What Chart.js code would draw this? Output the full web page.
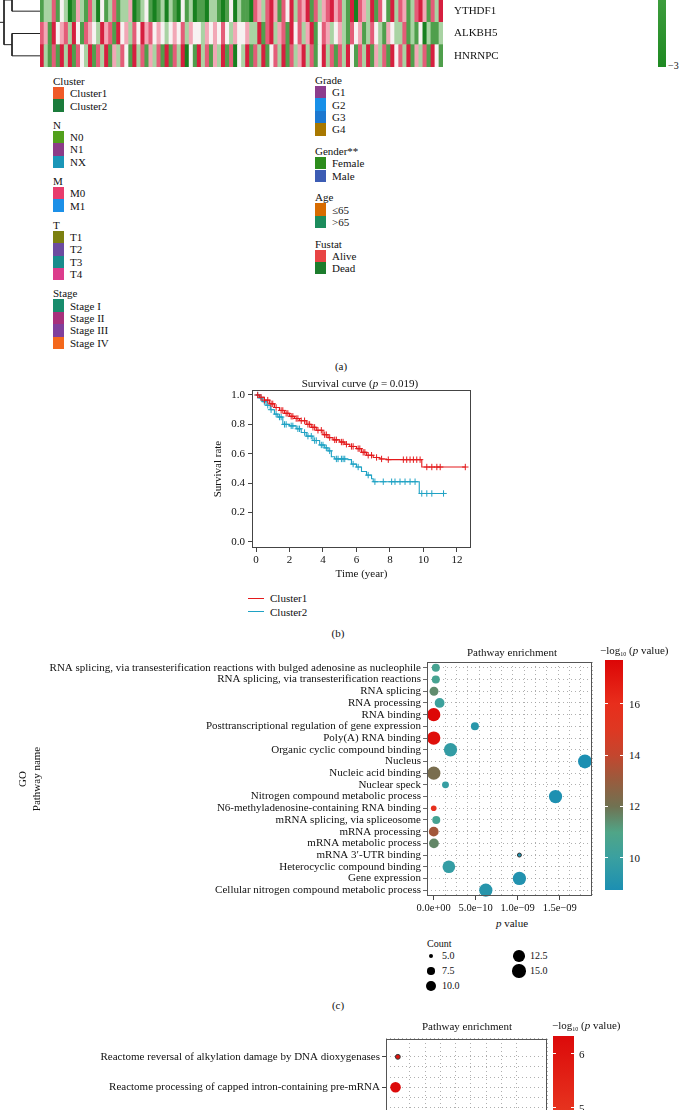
<!DOCTYPE html>
<html lang="en">
<head>
<meta charset="UTF-8">
<title>m6A regulator clusters</title>
<script src="https://cdn.jsdelivr.net/npm/chart.js"></script>
<style>
  html, body { margin: 0; padding: 0; background: #fff; }
  body { width: 682px; height: 1110px; position: relative; overflow: hidden;
         font-family: 'Liberation Serif', 'DejaVu Serif', serif; color: #111; }
  canvas { position: absolute; }
  .t { position: absolute; font-size: 11px; line-height: 12px; white-space: nowrap; }
  .c { transform: translate(-50%, -50%); }
  .m { transform: translateY(-50%); }
  .box { position: absolute; }
  sub { font-size: 6px; vertical-align: -2px; }
</style>
</head>
<body>
<canvas id="dendro" width="40" height="67" style="left:0;top:0"></canvas>
<canvas id="heat" width="463" height="67" style="left:40px;top:0"></canvas>
<canvas id="surv" width="272" height="205" style="left:208px;top:380px"></canvas>
<canvas id="go" width="600" height="268" style="left:0;top:648px"></canvas>
<canvas id="react" width="560" height="160" style="left:0;top:1030px"></canvas>

<script>
// ---------- heatmap (a) ----------
const heatGenes = ['YTHDF1', 'ALKBH5', 'HNRNPC'];
// cells read left to right: 0 = -3 (green), 3 = 0 (white), 6 = +3 (red)
const heatYTHDF1 = '1225132014215203125122401231' + '0120210312011022101302110' + '54256415362546152456' + '452160542615316254125641526';
const heatALKBH5 = '5416345263154326451634253645' + '3432343524332434353243342' + '26156245163524613542' + '342153412532143225121302112';
const heatHNRNPC = '6215162615326152614253162514' + '2516152603162514261503261' + '52613526152462513625' + '152631526142516352614251631';
const heatPalette = ['#17801f', '#4f9f4c', '#a9d3a3', '#f7f2f2', '#f2a7b6', '#e45c78', '#d61f3f'];

// dendrogram: leaf centres (row above is cut off) and merges [nodeA, nodeB, height]
const dendroLeafRows = [-0.5, 0.5, 1.5, 2.5];
const dendroMerges = [[0, 1, 28], [2, 3, 28], [4, 5, 36]];

// annotation legend
const annoLeft = [
  { title: 'Cluster', names: ['Cluster1', 'Cluster2'], colors: ['#f05a28', '#1b7b3b'] },
  { title: 'N', names: ['N0', 'N1', 'NX'], colors: ['#52a01c', '#8c3c88', '#1a96b8'] },
  { title: 'M', names: ['M0', 'M1'], colors: ['#e83c6c', '#1c90e8'] },
  { title: 'T', names: ['T1', 'T2', 'T3', 'T4'], colors: ['#7c8010', '#6c4ca0', '#188c8c', '#dc3c8c'] },
  { title: 'Stage', names: ['Stage I', 'Stage II', 'Stage III', 'Stage IV'], colors: ['#188c6c', '#a8307c', '#80409c', '#f4681c'] }
];
const annoRight = [
  { title: 'Grade', names: ['G1', 'G2', 'G3', 'G4'], colors: ['#8c3c8c', '#1890e8', '#1c78d0', '#a87800'] },
  { title: 'Gender**', names: ['Female', 'Male'], colors: ['#2c8c1c', '#3c5cb4'] },
  { title: 'Age', names: ['\u226465', '>65'], colors: ['#d86c00', '#1c8c5c'] },
  { title: 'Fustat', names: ['Alive', 'Dead'], colors: ['#e84444', '#1c7c2c'] }
];

// ---------- survival (b) ----------
const km1Times = [0, 0.2, 0.5, 0.8, 1.1, 1.4, 1.7, 2.0, 2.3, 2.6, 3.0, 3.3, 3.6, 4.0, 4.3, 4.6, 5.0, 5.3, 5.6, 6.0, 6.3, 6.6, 7.0, 7.4, 7.8, 9.9, 12.5];
const km1Surv = [1.0, 0.985, 0.965, 0.94, 0.915, 0.895, 0.875, 0.855, 0.84, 0.825, 0.8, 0.78, 0.76, 0.73, 0.71, 0.695, 0.68, 0.665, 0.65, 0.635, 0.61, 0.59, 0.575, 0.565, 0.56, 0.51, 0.51];
const km1Censor = [0.1, 0.3, 0.5, 0.7, 0.9, 1.0, 1.2, 1.5, 1.6, 1.8, 1.9, 2.1, 2.2, 2.4, 2.5, 2.7, 2.9, 3.1, 3.2, 3.4, 3.5, 3.7, 3.9, 4.1, 4.2, 4.4, 4.7, 4.8, 5.1, 5.2, 5.4, 5.7, 5.8, 6.1, 6.2, 6.4, 6.5, 6.7, 6.9, 7.2, 7.5, 7.9, 8.8, 9.0, 9.2, 9.4, 9.6, 9.8, 10.2, 10.5, 10.8, 11.0, 12.5];
const km2Times = [0, 0.2, 0.4, 0.6, 0.85, 1.1, 1.3, 1.6, 2.0, 2.4, 2.7, 3.0, 3.4, 3.8, 4.1, 4.3, 4.5, 4.7, 5.5, 5.7, 6.0, 6.3, 6.6, 6.9, 7.0, 9.75, 11.2];
const km2Surv = [1.0, 0.98, 0.955, 0.93, 0.9, 0.87, 0.85, 0.8, 0.79, 0.77, 0.745, 0.72, 0.69, 0.66, 0.64, 0.62, 0.58, 0.565, 0.56, 0.53, 0.51, 0.48, 0.455, 0.43, 0.41, 0.33, 0.33];
const km2Censor = [0.1, 0.3, 0.5, 0.7, 0.9, 1.2, 1.4, 1.5, 1.7, 1.8, 2.1, 2.2, 2.5, 2.6, 2.9, 3.1, 3.3, 3.5, 3.6, 3.9, 4.0, 4.2, 4.4, 4.8, 4.9, 5.1, 5.2, 5.3, 5.8, 6.1, 6.7, 7.1, 7.6, 8.1, 8.3, 8.6, 8.9, 9.2, 9.5, 9.9, 10.2, 10.5, 11.2];
const survGroups = ['Cluster1', 'Cluster2'];
const survColors = ['#e41a1c', '#1fa2c4'];

// ---------- GO enrichment (c) ----------
const goNames = [
  'RNA splicing, via transesterification reactions with bulged adenosine as nucleophile',
  'RNA splicing, via transesterification reactions',
  'RNA splicing',
  'RNA processing',
  'RNA binding',
  'Posttranscriptional regulation of gene expression',
  'Poly(A) RNA binding',
  'Organic cyclic compound binding',
  'Nucleus',
  'Nucleic acid binding',
  'Nuclear speck',
  'Nitrogen compound metabolic process',
  'N6-methyladenosine-containing RNA binding',
  'mRNA splicing, via spliceosome',
  'mRNA processing',
  'mRNA metabolic process',
  'mRNA 3\u2032-UTR binding',
  'Heterocyclic compound binding',
  'Gene expression',
  'Cellular nitrogen compound metabolic process'
];
const goPValues = [2.5e-11, 2.5e-11, 3.2e-12, 7.0e-11, 2.5e-18, 4.9e-10, 5.0e-18, 2.0e-10, 1.8e-9, 6.0e-13, 1.4e-10, 1.45e-9, 1.6e-16, 3.0e-11, 6.0e-14, 2.5e-12, 1.02e-9, 1.8e-10, 1.02e-9, 6.2e-10];
const goCounts = [8, 8, 9, 10, 15, 8, 15, 15, 16, 15, 7, 15, 6, 8, 10, 10, 5, 14, 15, 15];
const goColorTicks = [10, 12, 14, 16];
const countLegend = [5.0, 7.5, 10.0, 12.5, 15.0];

// ---------- Reactome enrichment (d), cut at the page edge ----------
const reactNames = [
  'Reactome reversal of alkylation damage by DNA dioxygenases',
  'Reactome processing of capped intron-containing pre-mRNA'
];
const reactPValues = [1.0e-6, 4.7e-7];
const reactCounts = [5.5, 11];
const reactColorTicks = [5, 6];

// colour ramps for -log10(p)
const goStops = [[8.75, [28, 143, 178]], [10, [58, 160, 160]], [11, [80, 165, 135]], [12, [112, 114, 82]],
  [13, [152, 92, 62]], [14, [196, 70, 46]], [15, [222, 56, 34]], [16, [232, 46, 28]], [17.7, [220, 6, 6]]];
const reactStops = [[4.3, [234, 66, 40]], [5, [230, 50, 30]], [6.33, [220, 10, 10]]];

// ---------- helpers ----------
const serif = "'Liberation Serif', 'DejaVu Serif', serif";
const ink = '#111';
Chart.defaults.font.family = serif;
Chart.defaults.color = ink;
Chart.defaults.animation = false;
Chart.defaults.plugins.legend.display = false;
Chart.defaults.plugins.tooltip.enabled = false;

function rampColor(stops, v) {
  if (v <= stops[0][0]) return 'rgb(' + stops[0][1].join(',') + ')';
  for (let i = 1; i < stops.length; i++) {
    if (v <= stops[i][0]) {
      const [a, ca] = stops[i - 1], [b, cb] = stops[i];
      const f = (v - a) / (b - a);
      return 'rgb(' + ca.map((c, k) => Math.round(c + (cb[k] - c) * f)).join(',') + ')';
    }
  }
  return 'rgb(' + stops[stops.length - 1][1].join(',') + ')';
}
function cssRamp(stops) {
  const hi = stops[stops.length - 1][0], lo = stops[0][0];
  return 'linear-gradient(to bottom,' + stops.slice().reverse()
    .map(s => 'rgb(' + s[1].join(',') + ') ' + ((hi - s[0]) / (hi - lo) * 100).toFixed(1) + '%').join(',') + ')';
}
const bubbleR = count => 2 * Math.sqrt(count - 4);

function addText(html, x, y, cls, style) {
  const d = document.createElement('div');
  d.className = 't ' + (cls || '');
  d.innerHTML = html;
  d.style.left = x + 'px';
  d.style.top = y + 'px';
  if (style) Object.assign(d.style, style);
  document.body.appendChild(d);
  return d;
}
function addBox(x, y, w, h, bg, style) {
  const d = document.createElement('div');
  d.className = 'box';
  Object.assign(d.style, { left: x + 'px', top: y + 'px', width: w + 'px', height: h + 'px', background: bg }, style || {});
  document.body.appendChild(d);
  return d;
}

const frame = {
  id: 'frame',
  afterDraw(chart, args, opts) {
    const a = chart.chartArea, ctx = chart.ctx;
    ctx.save();
    ctx.strokeStyle = opts.color || '#444';
    ctx.lineWidth = 1;
    ctx.strokeRect(Math.round(a.left) + 0.5, Math.round(a.top) + 0.5, Math.round(a.right - a.left) - 1, Math.round(a.bottom - a.top) - 1);
    ctx.restore();
  }
};

// ---------- (a) dendrogram ----------
const dNodes = dendroLeafRows.map(y => ({ y, h: 0 }));
const dendroSets = dendroMerges.map(([a, b, h]) => {
  const A = dNodes[a], B = dNodes[b];
  dNodes.push({ y: (A.y + B.y) / 2, h });
  return { data: [{ x: A.h, y: A.y }, { x: h, y: A.y }, { x: h, y: B.y }, { x: B.h, y: B.y }] };
});
const root = dNodes[dNodes.length - 1];
dendroSets.push({ data: [{ x: root.h, y: root.y }, { x: 40, y: root.y }] });
dendroSets.forEach(s => Object.assign(s, { showLine: true, borderColor: '#222', borderWidth: 1, pointRadius: 0 }));
new Chart(document.getElementById('dendro'), {
  type: 'scatter',
  data: { datasets: dendroSets },
  options: {
    responsive: false, events: [], layout: { padding: 0 },
    scales: {
      x: { display: false, reverse: true, min: 0, max: 40 },
      y: { display: false, reverse: true, min: 0, max: 3 }
    }
  }
});

// ---------- (a) heatmap ----------
const heatRows = [heatYTHDF1, heatALKBH5, heatHNRNPC];
const nCols = Math.min(...heatRows.map(r => r.length));
new Chart(document.getElementById('heat'), {
  type: 'bar',
  data: {
    labels: Array.from({ length: nCols }, (_, i) => i + 1),
    datasets: heatRows.map((row, r) => ({
      label: heatGenes[r],
      data: Array(nCols).fill(1),
      backgroundColor: row.slice(0, nCols).split('').map(c => heatPalette[+c]),
      borderWidth: 0, barPercentage: 1, categoryPercentage: 1
    })).reverse()
  },
  options: {
    responsive: false, events: [], layout: { padding: 0 },
    scales: {
      x: { display: false, stacked: true },
      y: { display: false, stacked: true, min: 0, max: 3 },
      genes: {
        type: 'category', labels: heatGenes, position: 'right', offset: true,
        grid: { display: false }, border: { display: false },
        ticks: { autoSkip: false, padding: 3, color: ink, font: { size: 11, lineHeight: 1 } },
        afterFit: s => { s.width = 60; s.paddingTop = 0; s.paddingBottom = 0; }
      }
    }
  }
});
addBox(658, 0, 8, 67, 'linear-gradient(to bottom,#3d9c3d,#1f8a22)');
addText('\u22123', 668, 66, 'm', { fontSize: '10px' });

// ---------- (a) annotation legend ----------
function annoColumn(groups, x, y0, gap) {
  let y = y0;
  groups.forEach(g => {
    addText(g.title, x, y);
    y += 12;
    g.names.forEach((n, i) => {
      addBox(x, y, 11, 12.4, g.colors[i]);
      addText(n, x + 17, y + 6.2, 'm');
      y += 12.4;
    });
    y += gap;
  });
}
annoColumn(annoLeft, 53, 75, 7);
annoColumn(annoRight, 315, 74, 9.5);
addText('(a)', 341, 366, 'c');

// ---------- (b) survival ----------
function survAt(times, surv, t) {
  let s = surv[0];
  times.forEach((tt, i) => { if (tt <= t) s = surv[i]; });
  return s;
}
const kmSets = [[km1Times, km1Surv, km1Censor], [km2Times, km2Surv, km2Censor]];
const survSets = [];
kmSets.forEach(([times, surv, cens], g) => {
  survSets.push({
    label: survGroups[g], data: times.map((t, i) => ({ x: t, y: surv[i] })),
    showLine: true, stepped: 'before', borderColor: survColors[g], borderWidth: 1.1, pointRadius: 0
  });
  survSets.push({
    label: survGroups[g] + ' censored', data: cens.map(t => ({ x: t, y: survAt(times, surv, t) })),
    pointStyle: 'cross', pointRadius: 3.2, borderColor: survColors[g], borderWidth: 1
  });
});
new Chart(document.getElementById('surv'), {
  type: 'scatter',
  data: { datasets: survSets },
  options: {
    responsive: false, events: [], layout: { padding: { top: 10, right: 9, left: 0, bottom: 0 } },
    plugins: { frame: { color: '#444' } },
    scales: {
      x: {
        min: -0.24, max: 12.84,
        ticks: { stepSize: 2, includeBounds: false, padding: 2, color: ink, font: { size: 11 } },
        grid: { drawOnChartArea: false, tickLength: 4, color: '#444' },
        border: { display: false },
        title: { display: true, text: 'Time (year)', color: ink, font: { size: 11 } },
        afterFit: s => { s.height = 37; }
      },
      y: {
        min: -0.041, max: 1.034,
        ticks: { stepSize: 0.2, includeBounds: false, padding: 3, color: ink, font: { size: 11 }, callback: v => v.toFixed(1) },
        grid: { drawOnChartArea: false, tickLength: 4, color: '#444' },
        border: { display: false },
        title: { display: true, text: 'Survival rate', color: ink, font: { size: 11 } },
        afterFit: s => { s.width = 44; }
      }
    }
  },
  plugins: [frame]
});
addText('Survival curve (<i>p</i> = 0.019)', 360, 383, 'c');
survGroups.forEach((g, i) => {
  addBox(248, 597.5 + i * 13.5, 16, 1.2, survColors[i]);
  addText(g, 270, 598 + i * 13.5, 'm');
});
addText('(b)', 338, 633, 'c');

// ---------- (c) GO bubble chart ----------
function sciTick(v) {
  return v.toExponential(1).replace(/e([+-])(\d)$/, 'e$10$2').replace('-', '\u2212');
}
new Chart(document.getElementById('go'), {
  type: 'bubble',
  data: {
    datasets: [{
      data: goNames.map((n, i) => ({ x: goPValues[i], y: n, r: bubbleR(goCounts[i]) })),
      backgroundColor: goPValues.map(p => rampColor(goStops, -Math.log10(p))),
      borderColor: goCounts.map(c => c < 6 ? '#333' : 'rgba(0,0,0,0)'),
      borderWidth: 1, xAxisID: 'x', yAxisID: 'y'
    }]
  },
  options: {
    responsive: false, events: [], layout: { padding: { top: 14, right: 3, left: 0, bottom: 0 } },
    plugins: { frame: { color: '#555' } },
    scales: {
      x: {
        type: 'linear', position: 'bottom', min: -0.08e-9, max: 1.885e-9,
        ticks: { stepSize: 5e-10, includeBounds: false, padding: 2, color: ink, font: { size: 10.5 }, callback: sciTick },
        grid: { drawOnChartArea: false, tickLength: 4, color: '#444' },
        border: { display: false },
        afterFit: s => { s.height = 20; }
      },
      xg: {
        type: 'linear', position: 'top', min: -0.6, max: 14,
        ticks: { display: false, stepSize: 1 },
        grid: { color: '#9a9a9a', lineWidth: 0.8, drawTicks: false },
        border: { display: false, dash: [1, 3] },
        afterFit: s => { s.height = 0; }
      },
      y: {
        type: 'category', labels: goNames, offset: true,
        ticks: { autoSkip: false, padding: 2, color: ink, font: { size: 11, lineHeight: 1 } },
        grid: { color: '#9a9a9a', lineWidth: 0.8, tickLength: 4, tickColor: '#444', tickBorderDash: [] },
        border: { display: false, dash: [1, 3] },
        title: { display: true, text: ['GO', 'Pathway name'], color: ink, font: { size: 11 }, padding: { top: 17, bottom: 0 } },
        afterFit: s => { s.width = 427; }
      }
    }
  },
  plugins: [frame]
});
addText('Pathway enrichment', 512, 652, 'c');
addText('<i>p</i> value', 512, 923, 'c');
// colour bar
const goHi = goStops[goStops.length - 1][0], goLo = goStops[0][0];
const goBarTop = 660, goBarH = 230;
addBox(605, goBarTop, 18, goBarH, cssRamp(goStops));
goColorTicks.forEach(v => {
  const y = goBarTop + (goHi - v) / (goHi - goLo) * goBarH;
  addBox(605, y - 0.5, 3, 1, '#fff');
  addBox(620, y - 0.5, 3, 1, '#fff');
  addText(String(v), 629, y, 'm');
});
addText('\u2212log<sub>10</sub> (<i>p</i> value)', 600, 652, 'm');
// size legend
addText('Count', 427, 944, 'm', { fontSize: '10px' });
countLegend.forEach((c, i) => {
  const col = i < 3 ? 0 : 1, row = i < 3 ? i : i - 3;
  const cx = col ? 519 : 431, cy = 956 + row * 15, r = bubbleR(c);
  addBox(cx - r, cy - r, 2 * r, 2 * r, '#000', { borderRadius: '50%' });
  addText(c.toFixed(1), cx + 11, cy, 'm', { fontSize: '10px' });
});
addText('(c)', 338, 1005, 'c');

// ---------- (d) Reactome bubble chart ----------
new Chart(document.getElementById('react'), {
  type: 'bubble',
  data: {
    datasets: [{
      data: reactNames.map((n, i) => ({ x: reactPValues[i], y: i, r: bubbleR(reactCounts[i]) })),
      backgroundColor: reactPValues.map(p => rampColor(reactStops, -Math.log10(p))),
      borderColor: reactCounts.map(c => c < 6 ? '#333' : 'rgba(0,0,0,0)'),
      borderWidth: 1, xAxisID: 'x', yAxisID: 'y'
    }]
  },
  options: {
    responsive: false, events: [], layout: { padding: { top: 5, right: 13, left: 0, bottom: 0 } },
    plugins: { frame: { color: '#555' } },
    scales: {
      x: { display: false, type: 'linear', min: -0.17e-5, max: 3.5e-5 },
      xg: {
        type: 'linear', position: 'top', min: -0.55, max: 9.97,
        ticks: { display: false, stepSize: 1 },
        grid: { color: '#9a9a9a', lineWidth: 0.8, drawTicks: false },
        border: { display: false, dash: [1, 3] },
        afterFit: s => { s.height = 0; }
      },
      y: {
        type: 'linear', reverse: true, min: -0.6, max: 4.097,
        afterBuildTicks: s => { s.ticks = reactNames.map((_, i) => ({ value: i })); },
        ticks: { autoSkip: false, padding: 2, color: ink, font: { size: 11 }, callback: v => reactNames[v] },
        grid: { drawOnChartArea: false, tickLength: 4, color: '#444' },
        border: { display: false },
        afterFit: s => { s.width = 386; }
      },
      yg: {
        type: 'linear', position: 'right', reverse: true, min: -0.8, max: 13.29,
        ticks: { display: false, stepSize: 1 },
        grid: { color: '#9a9a9a', lineWidth: 0.8, drawTicks: false },
        border: { display: false, dash: [1, 3] },
        afterFit: s => { s.width = 0; }
      }
    }
  },
  plugins: [frame]
});
addText('Pathway enrichment', 467, 1026, 'c');
const rHi = 6.33, rBarTop = 1036, rPxPerUnit = 54;
addBox(553, rBarTop, 21, 120, 'linear-gradient(to bottom,rgb(220,10,10),rgb(230,50,30) 60%,rgb(234,66,40))');
reactColorTicks.forEach(v => {
  const y = rBarTop + (rHi - v) * rPxPerUnit;
  addBox(553, y - 0.5, 3, 1, '#fff');
  addBox(571, y - 0.5, 3, 1, '#fff');
  addText(String(v), 579, y, 'm');
});
addText('\u2212log<sub>10</sub> (<i>p</i> value)', 552, 1027, 'm');
</script>
</body>
</html>
